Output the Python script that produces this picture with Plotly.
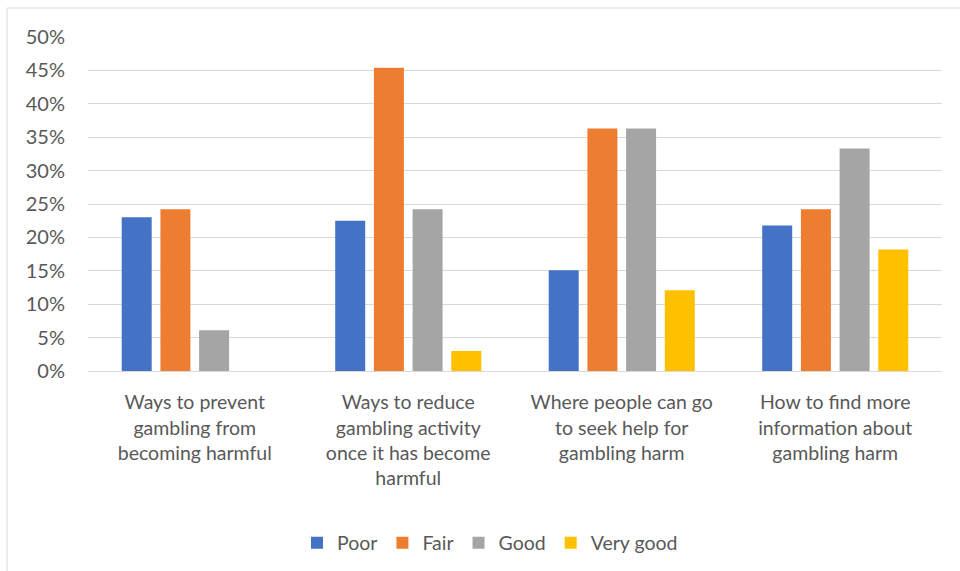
import plotly.graph_objects as go

categories = [
    "Ways to prevent<br>gambling from<br>becoming harmful",
    "Ways to reduce<br>gambling activity<br>once it has become<br>harmful",
    "Where people can go<br>to seek help for<br>gambling harm",
    "How to find more<br>information about<br>gambling harm",
]
series_names = ["Poor", "Fair", "Good", "Very good"]
poor = [23.0, 22.5, 15.1, 21.8]
fair = [24.2, 45.4, 36.3, 24.2]
good = [6.1, 24.2, 36.3, 33.3]
very_good = [0.0, 3.0, 12.1, 18.2]
colors = ["#4472C4", "#ED7D31", "#A5A5A5", "#FFC000"]
y_ticks = [0, 5, 10, 15, 20, 25, 30, 35, 40, 45, 50]

W, H = 960, 571
L, R, T, B = 88, 18, 37, 200
pw, ph = W - L - R, H - T - B

def px_x(px):
    return (px - L) / pw

def px_y(py):
    return (H - B - py) / ph

fig = go.Figure()
for name, vals, col in zip(series_names, [poor, fair, good, very_good], colors):
    fig.add_trace(go.Bar(x=categories, y=vals, name=name, marker=dict(color=col, line=dict(width=0))))

font_family = "Lato, 'Open Sans', sans-serif"
fig.update_layout(
    width=W, height=H,
    margin=dict(l=L, r=R, t=T, b=B, autoexpand=False),
    paper_bgcolor="white", plot_bgcolor="white",
    barmode="group", bargap=0.275, bargroupgap=0.225,
    font=dict(family=font_family, size=19, color="#595959"),
    showlegend=True,
    legend=dict(orientation="h", x=px_x(490), xanchor="center", y=px_y(543), yanchor="middle",
                font=dict(size=19.5, color="#595959"), traceorder="normal", itemwidth=30),
    shapes=[
        dict(type="line", xref="paper", yref="paper", x0=px_x(7), x1=px_x(960), y0=px_y(8), y1=px_y(8),
             line=dict(color="#D9D9D9", width=1)),
        dict(type="line", xref="paper", yref="paper", x0=px_x(7), x1=px_x(7), y0=px_y(8), y1=px_y(571),
             line=dict(color="#D9D9D9", width=1)),
    ],
)
fig.update_xaxes(showgrid=False, showline=True, linecolor="#D9D9D9", linewidth=1, ticks="",
                 tickfont=dict(size=19.5, color="#595959"), ticklabelstandoff=14)
fig.update_yaxes(range=[0, 50], tickvals=y_ticks, ticktext=[f"{v}%" for v in y_ticks],
                 showgrid=True, gridcolor="#D9D9D9", gridwidth=1, zeroline=False, showline=False,
                 ticks="", tickfont=dict(size=20, color="#595959"), ticklabelstandoff=22)

fig.write_html("out.html", config={"displayModeBar": False},
               post_script="document.body.style.margin='0';document.body.style.padding='0';")
